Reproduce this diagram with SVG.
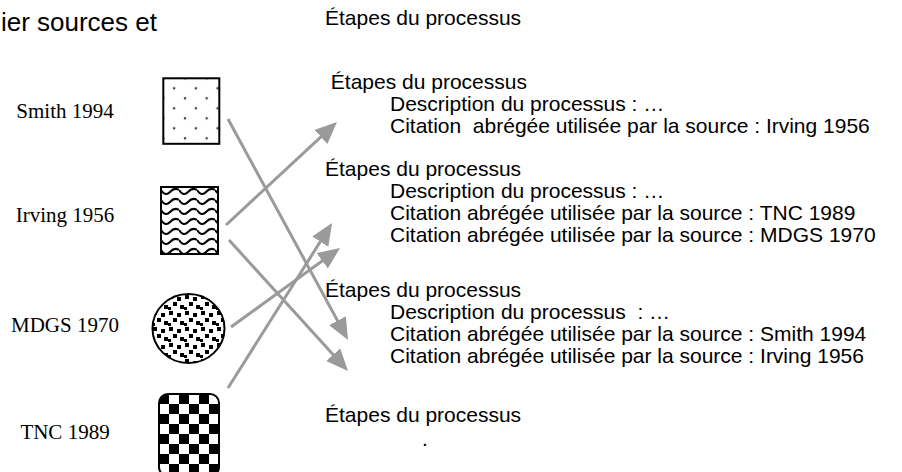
<svg xmlns="http://www.w3.org/2000/svg" width="902" height="472" viewBox="0 0 902 472">
<style>
.t{font-family:"Liberation Sans",Arial,sans-serif;font-size:21px;fill:#000}
.lbl{font-family:"Liberation Serif","Times New Roman",serif;font-size:21px;fill:#000;text-anchor:middle}
.conn{fill:none;stroke:#9a9a9a;stroke-width:3;marker-end:url(#ah)}
.shape{stroke:#000;stroke-width:2}
</style>
<defs>
<marker id="ah" markerUnits="userSpaceOnUse" markerWidth="24" markerHeight="20" refX="18" refY="9.5" orient="auto">
<path d="M0,0 L22,9.5 L0,19 z" fill="#9a9a9a"/>
</marker>
<pattern id="dots" patternUnits="userSpaceOnUse" x="163.3" y="78.3" width="21.7" height="20">
<circle cx="0" cy="0" r="1.3" fill="#444"/>
<circle cx="21.7" cy="0" r="1.3" fill="#444"/>
<circle cx="0" cy="20" r="1.3" fill="#444"/>
<circle cx="21.7" cy="20" r="1.3" fill="#444"/>
<circle cx="10.85" cy="10" r="1.3" fill="#444"/>
</pattern>
<pattern id="waves" patternUnits="userSpaceOnUse" x="161" y="187" width="18" height="10">
<path d="M0,3 Q4.5,10 9,5 Q13.5,0 18,3" fill="none" stroke="#000" stroke-width="2"/>
</pattern>
<pattern id="confetti" patternUnits="userSpaceOnUse" x="152" y="294" width="16" height="16">
<rect x="1" y="1" width="4" height="4" fill="#000"/>
<rect x="9" y="3" width="4" height="4" fill="#000"/>
<rect x="5" y="8" width="4" height="4" fill="#000"/>
<rect x="12" y="11" width="4" height="4" fill="#000"/>
<rect x="0" y="13" width="3" height="3" fill="#000"/>
</pattern>
<pattern id="checker" patternUnits="userSpaceOnUse" x="159" y="394" width="20" height="20">
<rect x="0" y="0" width="10" height="10" fill="#000"/>
<rect x="10" y="10" width="10" height="10" fill="#000"/>
</pattern>
</defs>
<rect width="902" height="472" fill="#fff"/>

<text class="t" x="157" y="31" style="font-size:26px;text-anchor:end">ier sources et</text>
<text class="t" x="325" y="25">Étapes du processus</text>

<g id="smith">
<rect class="shape" x="163.3" y="78.3" width="56" height="65.5" fill="url(#dots)"/>
<text class="lbl" x="65" y="118">Smith 1994</text>
</g>
<g id="irving">
<rect class="shape" x="161" y="187" width="57" height="67" fill="url(#waves)"/>
<text class="lbl" x="65" y="222">Irving 1956</text>
</g>
<g id="mdgs">
<ellipse class="shape" cx="188.5" cy="328.5" rx="36" ry="34.5" fill="url(#confetti)"/>
<text class="lbl" x="65" y="332">MDGS 1970</text>
</g>
<g id="tnc">
<rect class="shape" x="159" y="394" width="60" height="82" rx="9" fill="url(#checker)"/>
<text class="lbl" x="65" y="439">TNC 1989</text>
</g>

<g id="step1">
<text class="t" x="325" y="89" xml:space="preserve"> Étapes du processus</text>
<text class="t" x="390" y="111">Description du processus : …</text>
<text class="t" x="390" y="133" xml:space="preserve">Citation  abrégée utilisée par la source : Irving 1956</text>
</g>
<g id="step2">
<text class="t" x="325" y="176">Étapes du processus</text>
<text class="t" x="390" y="198">Description du processus : …</text>
<text class="t" x="390" y="220">Citation abrégée utilisée par la source : TNC 1989</text>
<text class="t" x="390" y="242">Citation abrégée utilisée par la source : MDGS 1970</text>
</g>
<g id="step3">
<text class="t" x="325" y="297">Étapes du processus</text>
<text class="t" x="390" y="319" xml:space="preserve">Description du processus  : …</text>
<text class="t" x="390" y="341">Citation abrégée utilisée par la source : Smith 1994</text>
<text class="t" x="390" y="363">Citation abrégée utilisée par la source : Irving 1956</text>
</g>
<g id="step4">
<text class="t" x="325" y="422">Étapes du processus</text>
<text class="t" x="422" y="446">.</text>
</g>

<g id="connectors">
<line class="conn" x1="228" y1="119" x2="346.1" y2="336.5"/>
<line class="conn" x1="226" y1="225" x2="334.1" y2="124.7"/>
<line class="conn" x1="229" y1="240" x2="345.3" y2="368"/>
<line class="conn" x1="231" y1="327" x2="336.8" y2="250.3"/>
<line class="conn" x1="228" y1="388" x2="329.9" y2="226.4"/>
</g>
</svg>
